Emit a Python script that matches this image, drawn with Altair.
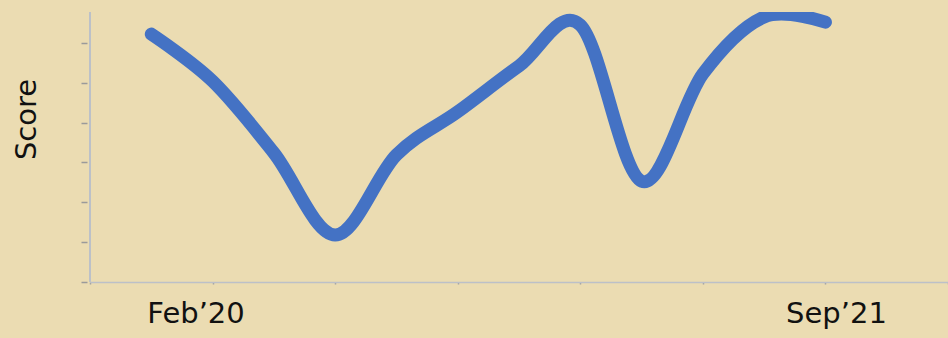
import altair as alt
import pandas as pd

# Data (x in axis-step units: 0..7 across the axis, points every half step)
x_pos = [0.5, 1.0, 1.5, 2.0, 2.5, 3.0, 3.5, 4.0, 4.5, 5.0, 5.5, 6.0]
scores = [6.22, 5.04, 3.24, 1.18, 3.19, 4.27, 5.42, 6.45, 2.53, 5.22, 6.65, 6.52]
label_text = ["Feb\u201920", "Sep\u201921"]
label_pos = [0.865, 6.09]

W, H = 858, 270
FONT = "DejaVu Sans"
BG = "#EBDCB2"

line_df = pd.DataFrame({"x": x_pos, "score": scores})
lab_df = pd.DataFrame({"x": label_pos, "label": label_text})

xscale = alt.Scale(domain=[0, 7], nice=False, zero=False)
yscale = alt.Scale(domain=[0, 6.775], nice=False, zero=True)

line = alt.Chart(line_df).mark_line(
    color="#4472C4", strokeWidth=13, strokeCap="round", strokeJoin="round",
    interpolate="cardinal", clip=True
).encode(
    x=alt.X("x:Q", scale=xscale,
            axis=alt.Axis(values=[0, 1, 2, 3, 4, 5, 6, 7], labels=False, title=None,
                          grid=False, domainColor="#BCC0C8", domainWidth=1.5,
                          tickColor="#A0A0A0", tickSize=2, tickWidth=1.5)),
    y=alt.Y("score:Q", scale=yscale,
            axis=alt.Axis(values=[0, 1, 2, 3, 4, 5, 6], labels=False, grid=False,
                          domain=False, offset=3, tickColor="#9A9A9A", tickSize=6,
                          tickWidth=1.5,
                          title="Score", titleFont=FONT, titleFontSize=29,
                          titleFontWeight="normal", titleColor="#111111",
                          titleX=-61, titleY=107, titleAlign="center",
                          titleBaseline="middle", titleAngle=270)),
)

yaxis_line = alt.Chart(line_df).mark_rule(color="#BCC0C8", strokeWidth=1.5).encode(
    x=alt.value(0), y=alt.value(0), y2=alt.value(H)
)

labels = alt.Chart(lab_df).mark_text(
    font=FONT, fontSize=29, color="#111111", baseline="alphabetic", align="center",
    clip=False
).encode(
    x=alt.X("x:Q", scale=xscale),
    y=alt.value(311),
    text="label:N",
)

chart = alt.layer(yaxis_line, line, labels).properties(
    width=W, height=H,
    autosize=alt.AutoSizeParams(type="none"),
    padding={"left": 90, "top": 12, "right": 0, "bottom": 56},
    background=BG,
).configure_view(stroke=None)

chart.save("out.html", embed_options={"renderer": "svg", "actions": False})
